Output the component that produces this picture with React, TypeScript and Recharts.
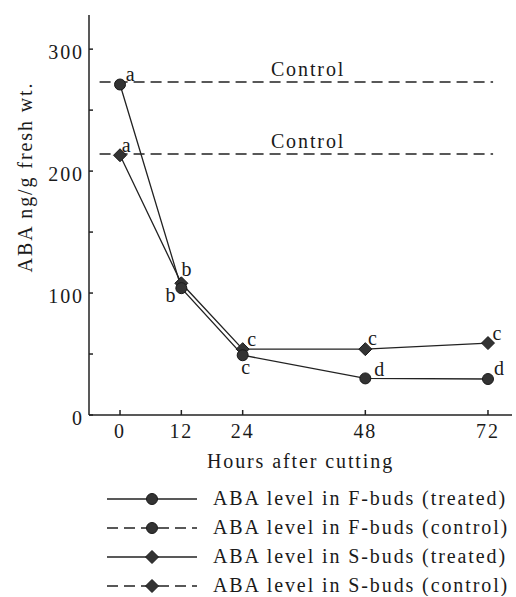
import React from 'react';
import {
  ComposedChart,
  Line,
  XAxis,
  YAxis,
  Legend,
  LabelList,
  ReferenceDot,
} from 'recharts';

// hours after cutting
const hours = [0, 12, 24, 48, 72];
// ABA ng/g fresh wt.
const fBudsTreated = [271, 104, 49, 30, 29.5];
const sBudsTreated = [213, 108, 54, 54, 59];
const fLetters = ['a', 'b', 'c', 'd', 'd'];
const sLetters = ['a', 'b', 'c', 'c', 'c'];

// control levels, drawn as dashed lines across the time span
const controlSpan = [-4, 73];
const fBudsControl = 273;
const sBudsControl = 214;
const controlLabelHour = 36.8;

const xTicks = [0, 12, 24, 48, 72];
const yTicks = [0, 50, 100, 150, 200, 250, 300];
const yLabels = [0, 100, 200, 300];

const legendItems = [
  { name: 'ABA level in F-buds (treated)', dashed: false, shape: 'circle' },
  { name: 'ABA level in F-buds (control)', dashed: true, shape: 'circle' },
  { name: 'ABA level in S-buds (treated)', dashed: false, shape: 'diamond' },
  { name: 'ABA level in S-buds (control)', dashed: true, shape: 'diamond' },
];

const treatedData = hours.map((h, i) => ({ h, f: fBudsTreated[i], s: sBudsTreated[i] }));
const controlData = controlSpan.map((h) => ({ h, fc: fBudsControl, sc: sBudsControl }));

const INK = '#222';
const FONT = '"Liberation Serif", "Times New Roman", serif';
const textStyle = { fontFamily: FONT, fontSize: 20, letterSpacing: 1.9, fill: '#1a1a1a' };

// letter offsets around each point, in pixels
const fOffsets = [[11, -11], [-10, 7], [4, 12], [15, -9], [12, -11]];
const sOffsets = [[7, -10], [6, -14], [10, -10], [8, -11], [10, -10]];

const Circle = ({ cx, cy, r = 5.5 }: any) => (
  <circle cx={cx} cy={cy} r={r} fill="#333" stroke="#1a1a1a" strokeWidth={1} />
);

const Diamond = ({ cx, cy, r = 6.5 }: any) => (
  <polygon
    points={`${cx},${cy - r} ${cx + r},${cy} ${cx},${cy + r} ${cx - r},${cy}`}
    fill="#333"
    stroke="#1a1a1a"
    strokeWidth={1}
  />
);

const XTick = ({ x, y, payload }: any) => (
  <g>
    <line x1={x} x2={x} y1={y} y2={y - 5} stroke={INK} strokeWidth={1.5} />
    <text x={x} y={y + 23} textAnchor="middle" {...textStyle}>
      {payload.value}
    </text>
  </g>
);

const YTick = ({ x, y, payload }: any) => (
  <g>
    <line x1={x} x2={x + 4} y1={y} y2={y} stroke={INK} strokeWidth={1.5} />
    {yLabels.includes(payload.value) && (
      <text x={x - 5} y={y + 10} textAnchor="end" {...textStyle}>
        {payload.value}
      </text>
    )}
  </g>
);

const RightTick = ({ x, y }: any) => (
  <line x1={x} x2={x - 4} y1={y} y2={y} stroke={INK} strokeWidth={1.5} />
);

const letterContent = (letters: string[], offsets: number[][]) => (props: any) => {
  const { x, y, index } = props;
  if (index == null || !letters[index]) return null;
  const [dx, dy] = offsets[index];
  return (
    <text x={x + dx} y={y + dy} textAnchor="middle" dominantBaseline="central" {...textStyle}>
      {letters[index]}
    </text>
  );
};

const LegendContent = () => (
  <svg width={516} height={112}>
    {legendItems.map((item, i) => {
      const cy = 15 + i * 29;
      return (
        <g key={item.name}>
          <line
            x1={107}
            x2={197}
            y1={cy}
            y2={cy}
            stroke={INK}
            strokeWidth={1.4}
            strokeDasharray={item.dashed ? '11 6' : undefined}
          />
          {item.shape === 'circle' ? <Circle cx={152} cy={cy} /> : <Diamond cx={152} cy={cy} />}
          <text x={213} y={cy + 6} {...textStyle}>
            {item.name}
          </text>
        </g>
      );
    })}
  </svg>
);

export default function App() {
  return (
    <div style={{ position: 'absolute', left: 0, top: 0, background: '#fff' }}>
      <ComposedChart
        width={516}
        height={597}
        margin={{ top: 15, right: 4, bottom: 142, left: 29 }}
      >
        <XAxis
          dataKey="h"
          type="number"
          domain={[-6.07, 76.7]}
          ticks={xTicks}
          allowDataOverflow
          height={40}
          tickSize={0}
          tickMargin={0}
          tickLine={false}
          tick={<XTick />}
          axisLine={{ stroke: INK, strokeWidth: 1.5 }}
          label={{
            content: ({ viewBox }: any) => (
              <text x={viewBox.x + viewBox.width / 2} y={viewBox.y + 53} textAnchor="middle" {...textStyle}>
                Hours after cutting
              </text>
            ),
          }}
        />
        <XAxis
          xAxisId="top"
          orientation="top"
          dataKey="h"
          type="number"
          domain={[-6.07, 76.7]}
          height={0}
          tick={false}
          tickLine={false}
          axisLine={{ stroke: INK, strokeWidth: 1.5 }}
        />
        <YAxis
          type="number"
          domain={[0, 328]}
          ticks={yTicks}
          allowDataOverflow
          width={60}
          tickSize={0}
          tickMargin={0}
          tickLine={false}
          tick={<YTick />}
          axisLine={{ stroke: INK, strokeWidth: 1.5 }}
          label={{
            content: ({ viewBox }: any) => (
              <text
                x={viewBox.x - 4}
                y={177}
                textAnchor="middle"
                dominantBaseline="central"
                transform={`rotate(-90 ${viewBox.x - 4} 177)`}
                {...textStyle}
              >
                ABA ng/g fresh wt.
              </text>
            ),
          }}
        />
        <YAxis
          yAxisId="right"
          orientation="right"
          type="number"
          domain={[0, 328]}
          ticks={yTicks}
          width={0}
          tickSize={0}
          tickMargin={0}
          tickLine={false}
          tick={<RightTick />}
          axisLine={{ stroke: INK, strokeWidth: 1.5 }}
        />

        <Line
          data={controlData}
          dataKey="fc"
          name="ABA level in F-buds (control)"
          stroke={INK}
          strokeWidth={1.4}
          strokeDasharray="11 6"
          dot={false}
          isAnimationActive={false}
        />
        <Line
          data={controlData}
          dataKey="sc"
          name="ABA level in S-buds (control)"
          stroke={INK}
          strokeWidth={1.4}
          strokeDasharray="11 6"
          dot={false}
          isAnimationActive={false}
        />
        <Line
          data={treatedData}
          dataKey="s"
          name="ABA level in S-buds (treated)"
          stroke={INK}
          strokeWidth={1.3}
          dot={(p: any) => <Diamond key={`s-${p.index}`} cx={p.cx} cy={p.cy} />}
          isAnimationActive={false}
        >
          <LabelList dataKey="s" content={letterContent(sLetters, sOffsets)} />
        </Line>
        <Line
          data={treatedData}
          dataKey="f"
          name="ABA level in F-buds (treated)"
          stroke={INK}
          strokeWidth={1.3}
          dot={(p: any) => <Circle key={`f-${p.index}`} cx={p.cx} cy={p.cy} />}
          isAnimationActive={false}
        >
          <LabelList dataKey="f" content={letterContent(fLetters, fOffsets)} />
        </Line>

        <ReferenceDot
          x={controlLabelHour}
          y={fBudsControl}
          r={1}
          fill="none"
          stroke="none"
          label={{ value: 'Control', position: 'top', offset: 5, style: textStyle }}
        />
        <ReferenceDot
          x={controlLabelHour}
          y={sBudsControl}
          r={1}
          fill="none"
          stroke="none"
          label={{ value: 'Control', position: 'top', offset: 5, style: textStyle }}
        />

        <Legend
          layout="vertical"
          align="center"
          verticalAlign="middle"
          content={<LegendContent />}
          wrapperStyle={{ position: 'absolute', left: 0, top: 484, width: 516, height: 112 }}
        />
      </ComposedChart>
    </div>
  );
}
